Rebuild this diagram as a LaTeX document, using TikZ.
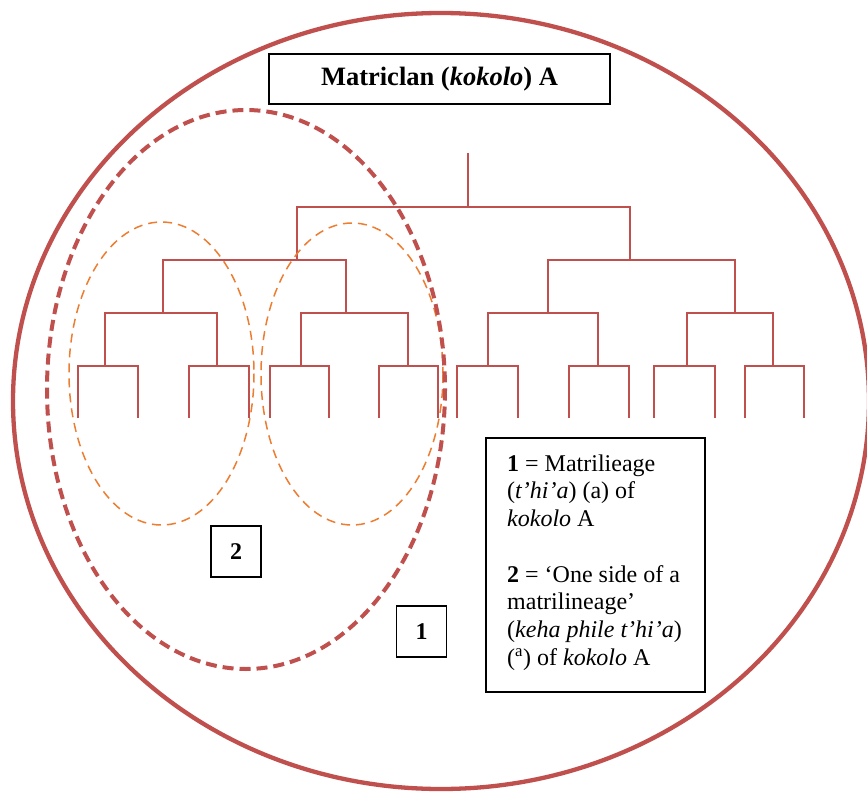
\documentclass[tikz,border=0pt]{standalone}
\usepackage{fontspec}
\setmainfont{Liberation Serif}
\definecolor{clanred}{HTML}{C0504D}
\definecolor{sideorange}{HTML}{ED7D31}
\begin{document}
\begin{tikzpicture}[x=1pt,y=-1pt,
  tree/.style={draw=clanred,line width=2.3pt},
  clanring/.style={draw=clanred,line width=4.3pt},
  lineagering/.style={draw=clanred,line width=4pt,dash pattern=on 11pt off 6pt},
  sidering/.style={draw=sideorange,line width=1.5pt,dash pattern=on 9pt off 6pt},
  titlebox/.style={draw=black,line width=1.8pt,fill=white,minimum width=341pt,minimum height=50pt,inner sep=0pt,font=\fontsize{26.5}{30}\selectfont\bfseries},
  numbox/.style={draw=black,line width=1.5pt,fill=white,minimum width=50pt,minimum height=51pt,inner sep=0pt,font=\fontsize{24}{28}\selectfont\bfseries},
  legendbox/.style={draw=black,line width=1.5pt,fill=white,minimum width=219pt,minimum height=254pt,inner sep=0pt},
  legendline/.style={inner sep=0pt,anchor=base west,font=\fontsize{24}{27.7}\selectfont}
]
\useasboundingbox (0,0) rectangle (867,792);
\clip (0,0) rectangle (867,792);
\fill[white] (0,0) rectangle (867,792);

% clan ring
\draw[clanring] (441,401) ellipse [x radius=428, y radius=388];

% tree
\draw[tree] (468,153) -- (468,207);
\draw[tree] (297,260) |- (630,207) -- (630,260);
\draw[tree] (163,313) |- (346,260) -- (346,313);
\draw[tree] (548,313) |- (735,260) -- (735,313);
\draw[tree] (105,366) |- (217,313) -- (217,366);
\draw[tree] (301,366) |- (408,313) -- (408,366);
\draw[tree] (488,366) |- (598,313) -- (598,366);
\draw[tree] (687,366) |- (773,313) -- (773,366);
\foreach \a/\b in {78/138,189/249,270/329,379/438,457/518,569/629,654/715,745/804}
  \draw[tree] (\a,418) |- (\b,366) -- (\b,418);

% lineage rings
\draw[sidering] (161.5,373.5) ellipse [x radius=92.5, y radius=151.5];
\draw[sidering] (352,374) ellipse [x radius=91, y radius=151];
\draw[lineagering] (246,389.5) ellipse [x radius=199, y radius=279.5];

% title
\node[titlebox] (title) at (439.5,79) {Matriclan (\textit{kokolo}) A};

% number boxes
\node[numbox] (two) at (236,551.5) {2};
\node[numbox] (one) at (421.5,631.5) {1};

% legend
\node[legendbox] (legend) at (595.5,565) {};
\node[legendline] (l1) at (507,471) {\textbf{1} = Matrilieage};
\node[legendline] (l2) at (507,498.7) {(\textit{t’hi’a}) (a) of};
\node[legendline] (l3) at (507,526.4) {\textit{kokolo} A};
\node[legendline] (l5) at (507,582) {\textbf{2} = ‘One side of a};
\node[legendline] (l6) at (507,609.7) {matrilineage’};
\node[legendline] (l7) at (507,637.4) {(\textit{keha phile t’hi’a})};
\node[legendline] (l8) at (507,665.1) {(\textsuperscript{a}) of \textit{kokolo} A};
\end{tikzpicture}
\end{document}
